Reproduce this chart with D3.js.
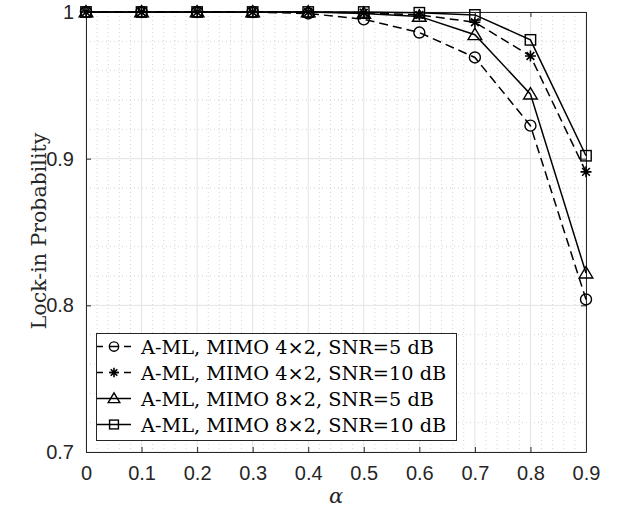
<!DOCTYPE html>
<html>
<head>
<meta charset="utf-8">
<script src="https://cdn.jsdelivr.net/npm/d3@7"></script>
<style>
  body { margin: 0; background: #fff; }
  svg { display: block; }
</style>
</head>
<body>
<svg id="chart" width="619" height="512"></svg>
<script>
// data
const alpha = [0, 0.1, 0.2, 0.3, 0.4, 0.5, 0.6, 0.7, 0.8, 0.9]
const mimo4x2snr5 = [1, 1, 1, 1, 0.999, 0.995, 0.986, 0.969, 0.9225, 0.804]
const mimo4x2snr10 = [1, 1, 1, 1, 1, 0.9995, 0.998, 0.993, 0.970, 0.891]
const mimo8x2snr5 = [1, 1, 1, 1, 1, 0.999, 0.997, 0.9845, 0.944, 0.822]
const mimo8x2snr10 = [1, 1, 1, 1, 1, 1, 0.9995, 0.998, 0.981, 0.902]
const seriesNames = [
  'A-ML, MIMO 4\u00d72, SNR=5 dB',
  'A-ML, MIMO 4\u00d72, SNR=10 dB',
  'A-ML, MIMO 8\u00d72, SNR=5 dB',
  'A-ML, MIMO 8\u00d72, SNR=10 dB'
]
const xTicks = [0, 0.1, 0.2, 0.3, 0.4, 0.5, 0.6, 0.7, 0.8, 0.9]
const yTicks = [0.7, 0.8, 0.9, 1]

const series = [
  { name: seriesNames[0], values: mimo4x2snr5, marker: 'circle', dash: '9,5' },
  { name: seriesNames[1], values: mimo4x2snr10, marker: 'star', dash: '9,5' },
  { name: seriesNames[2], values: mimo8x2snr5, marker: 'triangle', dash: null },
  { name: seriesNames[3], values: mimo8x2snr10, marker: 'square', dash: null }
]

const svg = d3.select('#chart')
const plotL = 86, plotR = 586, plotT = 12, plotB = 452
const axisColor = '#262626'

const x = d3.scaleLinear().domain([0, 0.9]).range([plotL, plotR])
const y = d3.scaleLinear().domain([0.7, 1]).range([plotB, plotT])

//minor grid, dotted
const minorX = d3.range(0, 0.9001, 0.02).filter(v => Math.abs(v * 10 - Math.round(v * 10)) > 1e-6)
const minorY = d3.range(0.7, 1.0001, 0.02).filter(v => Math.abs(v * 10 - Math.round(v * 10)) > 1e-6)
const grid = svg.append('g')
grid.selectAll('.mx').data(minorX).join('line')
    .attr('x1', d => x(d)).attr('x2', d => x(d))
    .attr('y1', plotT).attr('y2', plotB)
    .attr('stroke', '#d4d4d4').attr('stroke-dasharray', '1,3')
grid.selectAll('.my').data(minorY).join('line')
    .attr('x1', plotL).attr('x2', plotR)
    .attr('y1', d => y(d)).attr('y2', d => y(d))
    .attr('stroke', '#d4d4d4').attr('stroke-dasharray', '1,3')

//major grid
grid.selectAll('.gx').data(xTicks).join('line')
    .attr('x1', d => x(d)).attr('x2', d => x(d))
    .attr('y1', plotT).attr('y2', plotB)
    .attr('stroke', '#e3e3e3').attr('stroke-width', 1)
grid.selectAll('.gy').data(yTicks).join('line')
    .attr('x1', plotL).attr('x2', plotR)
    .attr('y1', d => y(d)).attr('y2', d => y(d))
    .attr('stroke', '#e3e3e3').attr('stroke-width', 1)

//axes with inward ticks
const tickFont = '"Liberation Sans", Arial, sans-serif'
const xAxis = d3.axisBottom(x).tickValues(xTicks).tickFormat(d3.format('~g')).tickSizeInner(-5).tickSizeOuter(0).tickPadding(14)
const yAxis = d3.axisLeft(y).tickValues(yTicks).tickFormat(d3.format('~g')).tickSizeInner(-5).tickSizeOuter(0).tickPadding(12)

svg.append('g').attr('transform', `translate(0,${plotB})`).call(xAxis)
svg.append('g').attr('transform', `translate(${plotL},0)`).call(yAxis)
svg.append('g').attr('transform', `translate(0,${plotT})`)
   .call(d3.axisTop(x).tickValues(xTicks).tickFormat('').tickSizeInner(-5).tickSizeOuter(0))
svg.append('g').attr('transform', `translate(${plotR},0)`)
   .call(d3.axisRight(y).tickValues(yTicks).tickFormat('').tickSizeInner(-5).tickSizeOuter(0))

svg.selectAll('.domain').attr('stroke', axisColor)
svg.selectAll('.tick line').attr('stroke', axisColor)
svg.selectAll('.tick text').attr('fill', axisColor)
   .style('font-family', tickFont).style('font-size', '20px')

//axis labels
const serif = '"DejaVu Serif", "Liberation Serif", serif'
svg.append('text')
   .attr('x', x(0.45)).attr('y', 503)
   .attr('text-anchor', 'middle')
   .style('font-family', serif).style('font-style', 'italic').style('font-size', '21px')
   .attr('fill', axisColor)
   .text('\u03b1')
svg.append('text')
   .attr('transform', `translate(46,${(plotT + plotB) / 2 - 1}) rotate(-90)`)
   .attr('text-anchor', 'middle')
   .style('font-family', serif).style('font-size', '20.5px')
   .attr('fill', axisColor)
   .text('Lock-in Probability')

//marker shapes
const starPath = r => `M${-r},0L${r},0M0,${-r}L0,${r}M${-r * 0.7},${-r * 0.7}L${r * 0.7},${r * 0.7}M${-r * 0.7},${r * 0.7}L${r * 0.7},${-r * 0.7}`
const drawMarker = (g, kind, cx, cy, s) => {
  if (kind === 'circle') {
    g.append('circle').attr('cx', cx).attr('cy', cy).attr('r', 5.5 * s)
     .attr('fill', 'none').attr('stroke', '#000').attr('stroke-width', 1.4)
  } else if (kind === 'star') {
    g.append('path').attr('transform', `translate(${cx},${cy})`).attr('d', starPath(5.5 * s))
     .attr('fill', 'none').attr('stroke', '#000').attr('stroke-width', 1.6)
  } else if (kind === 'triangle') {
    const h = 6.5 * s
    g.append('path').attr('transform', `translate(${cx},${cy})`)
     .attr('d', `M0,${-h}L${h * 1.05},${h * 0.75}L${-h * 1.05},${h * 0.75}Z`)
     .attr('fill', 'none').attr('stroke', '#000').attr('stroke-width', 1.4)
  } else {
    const h = 5.2 * s
    g.append('rect').attr('x', cx - h).attr('y', cy - h).attr('width', 2 * h).attr('height', 2 * h)
     .attr('fill', 'none').attr('stroke', '#000').attr('stroke-width', 1.4)
  }
}

//series
const line = d3.line().x((d, i) => x(alpha[i])).y(d => y(d))
series.forEach(s => {
  const g = svg.append('g')
  g.append('path').datum(s.values)
   .attr('d', line)
   .attr('fill', 'none').attr('stroke', '#000').attr('stroke-width', 1.5)
   .attr('stroke-dasharray', s.dash)
  s.values.forEach((v, i) => drawMarker(g, s.marker, x(alpha[i]), y(v), 1))
})

//legend
const lg = svg.append('g')
lg.append('rect').attr('x', 96.5).attr('y', 333.5).attr('width', 360).attr('height', 107)
  .attr('fill', '#fff').attr('stroke', axisColor).attr('stroke-width', 1)
series.forEach((s, i) => {
  const cy = 346.5 + i * 26
  lg.append('line').attr('x1', 97).attr('x2', 131).attr('y1', cy).attr('y2', cy)
    .attr('stroke', '#000').attr('stroke-width', 1.5)
    .attr('stroke-dasharray', s.dash ? '6,6,10,5,7' : null)
  drawMarker(lg, s.marker, 114, cy, 0.85)
  lg.append('text').attr('x', 141).attr('y', cy + 7)
    .style('font-family', serif).style('font-size', '19.3px')
    .attr('fill', '#000')
    .text(s.name)
})
</script>
</body>
</html>
